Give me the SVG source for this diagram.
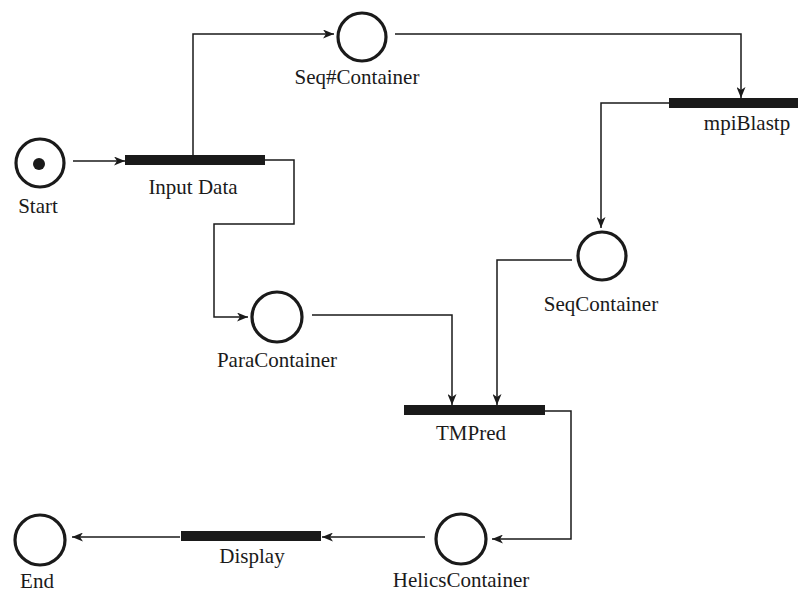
<svg xmlns="http://www.w3.org/2000/svg" width="798" height="593" viewBox="0 0 798 593">
<style>
.place{fill:none;stroke:#1a1a1a;stroke-width:3.2}
.bar{fill:#1a1a1a}
.lbl{font-family:"Liberation Serif","Times New Roman",serif;font-size:21px;fill:#1a1a1a;text-anchor:middle}
.arc{fill:none;stroke:#1a1a1a;stroke-width:1.5}
</style>
<defs>
<marker id="ah" viewBox="0 0 11 9" refX="11" refY="4.5" markerWidth="11" markerHeight="9" markerUnits="userSpaceOnUse" orient="auto">
<path d="M0,0 L11,4.5 L0,9 L3,4.5 Z" fill="#1a1a1a"/>
</marker>
</defs>
<rect width="798" height="593" fill="#fff"/>
<g id="connectors">
<path class="arc" d="M73,161 H125" marker-end="url(#ah)"/>
<path class="arc" d="M193,155 V34 H334" marker-end="url(#ah)"/>
<path class="arc" d="M395,34 H741 V98" marker-end="url(#ah)"/>
<path class="arc" d="M669,103 H601 V228" marker-end="url(#ah)"/>
<path class="arc" d="M265,160 H294 V224 H214 V317 H248" marker-end="url(#ah)"/>
<path class="arc" d="M312,315 H452 V405" marker-end="url(#ah)"/>
<path class="arc" d="M572,260 H497 V405" marker-end="url(#ah)"/>
<path class="arc" d="M545,411 H571 V539 H492" marker-end="url(#ah)"/>
<path class="arc" d="M425,537 H322" marker-end="url(#ah)"/>
<path class="arc" d="M180,537 H72" marker-end="url(#ah)"/>
</g>
<g id="start">
<circle class="place" cx="40" cy="163" r="24"/>
<circle cx="39" cy="164" r="6" fill="#1a1a1a"/>
<text class="lbl" x="38" y="213">Start</text>
</g>
<g id="inputdata">
<rect class="bar" x="125" y="155" width="140" height="10"/>
<text class="lbl" x="193" y="194">Input Data</text>
</g>
<g id="seqhcontainer">
<circle class="place" cx="362" cy="37" r="24"/>
<text class="lbl" x="357" y="84">Seq#Container</text>
</g>
<g id="mpiblastp">
<rect class="bar" x="669" y="98" width="129" height="10"/>
<text class="lbl" x="747" y="130">mpiBlastp</text>
</g>
<g id="seqcontainer">
<circle class="place" cx="602" cy="256" r="24"/>
<text class="lbl" x="601" y="311">SeqContainer</text>
</g>
<g id="paracontainer">
<circle class="place" cx="277" cy="317" r="25"/>
<text class="lbl" x="277" y="367">ParaContainer</text>
</g>
<g id="tmpred">
<rect class="bar" x="404" y="405" width="141" height="10"/>
<text class="lbl" x="471" y="440">TMPred</text>
</g>
<g id="helicscontainer">
<circle class="place" cx="461" cy="539" r="25"/>
<text class="lbl" x="461" y="587">HelicsContainer</text>
</g>
<g id="display">
<rect class="bar" x="181" y="531" width="140" height="10"/>
<text class="lbl" x="252" y="563">Display</text>
</g>
<g id="end">
<circle class="place" cx="40" cy="540" r="25"/>
<text class="lbl" x="37" y="588">End</text>
</g>
</svg>
